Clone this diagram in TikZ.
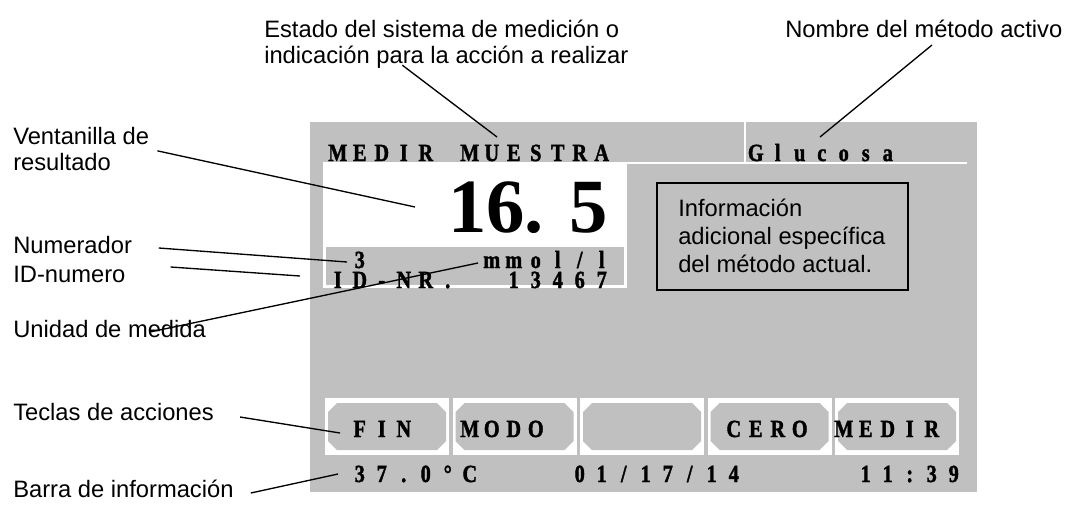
\documentclass[tikz,border=0pt]{standalone}
\usepackage{fontspec}
\setmainfont{Liberation Sans}
\newfontfamily\lcdfont{Liberation Serif}[FakeStretch=0.82,FakeBold=1.6]
\newfontfamily\bigfont{Liberation Serif}
\definecolor{panelgray}{RGB}{192,192,192}
% one character per display cell
\newcommand\lcd[1]{\lcdnext#1\relax}
\def\lcdnext#1{\ifx#1\relax\else\makebox[16.5pt]{#1}\expandafter\lcdnext\fi}
\tikzset{
  lbl/.style={anchor=base west,inner sep=0pt,align=left,font=\fontsize{17.8}{19}\selectfont},
  lcdtxt/.style={anchor=base west,inner sep=0pt,font=\lcdfont\bfseries\fontsize{18.5}{18.5}\selectfont},
  lead/.style={line width=1pt},
}
\begin{document}
\begin{tikzpicture}[x=0.75pt,y=-0.75pt]
	\useasboundingbox (0,0) rectangle (1077,504);
	% display
	\fill[panelgray] (310,122) rectangle (977,492);
	\fill[white] (323,162) rectangle (627,288);
	\fill[panelgray] (326,247) rectangle (624,285);
	\draw[white,line width=1.5pt] (745,122) -- (745,163) (627,163) -- (967,163);
	\foreach \k in {0,...,4}{
		\pgfmathsetmacro\kx{325+127.5*\k}
		\fill[white] (\kx,398) rectangle ++(124,57);
		\fill[panelgray] (\kx,398) ++(3,14) -- ++(9,-9) -- ++(100,0) -- ++(9,9) -- ++(0,29)
			-- ++(-9,9) -- ++(-100,0) -- ++(-9,-9) -- cycle;
	}
	\draw[line width=1.1pt,fill=panelgray] (657,183) rectangle (908,290);
	\node[lbl,font=\fontsize{17.8}{21}\selectfont] (info) at (678,272)
		{Información\\adicional específica\\del método actual.};
	% display texts
	\node[lcdtxt] (status) at (326.5,161) {\lcd{MEDIR~MUESTRA}};
	\node[lcdtxt] (method) at (744.5,161) {\lcd{Glucosa}};
	\node[anchor=base east,inner sep=0pt,font=\bigfont\bfseries\fontsize{57.5}{57.5}\selectfont] (result) at (608,232) {16. 5};
	\node[lcdtxt] (numer) at (348.5,268) {\lcd{3}};
	\node[lcdtxt] (unit) at (480.5,268) {\lcd{mmol/l}};
	\node[lcdtxt] (idnr) at (326.5,288) {\lcd{ID-NR.~~13467}};
	\node[lcdtxt] (kfin) at (348.5,437) {\lcd{FIN}};
	\node[lcdtxt] (kmodo) at (458.5,437) {\lcd{MODO}};
	\node[lcdtxt] (kcero) at (722.5,437) {\lcd{CERO}};
	\node[lcdtxt] (kmedir) at (832.5,437) {\lcd{MEDIR}};
	\node[lcdtxt] (temp) at (348.5,482) {\lcd{37.0°C}};
	\node[lcdtxt] (date) at (568.5,482) {\lcd{01/17/14}};
	\node[lcdtxt] (time) at (854.5,482) {\lcd{11:39}};
	% labels
	\node[lbl] (estadolbl) at (264,63) {Estado del sistema de medición o\\indicación para la acción a realizar};
	\node[lbl] (metodolbl) at (785,37) {Nombre del método activo};
	\node[lbl] (ventanalbl) at (13,170) {Ventanilla de\\resultado};
	\node[lbl] (numerlbl) at (13,253) {Numerador};
	\node[lbl] (idlbl) at (13,282) {ID-numero};
	\node[lbl] (unidadlbl) at (13,337) {Unidad de medida};
	\node[lbl] (teclaslbl) at (13,420) {Teclas de acciones};
	\node[lbl] (barralbl) at (13,497) {Barra de información};
	\coordinate (statustip) at (497,137);
	\coordinate (methodtip) at (820,137);
	\coordinate (resulttip) at (415,207);
	\coordinate (numtip) at (347,262);
	\coordinate (idtip) at (300,276);
	\coordinate (unittip) at (478,263);
	\coordinate (keytip) at (340,433);
	\coordinate (bartip) at (338,474);
	\draw[lead] (estadolbl.south) ++(-44,-3) -- (statustip);
	\draw[lead] (metodolbl.base west) ++(147,8) -- (methodtip);
	\draw[lead] (ventanalbl.east) ++(8,2) -- (resulttip);
	\draw[lead] (numerlbl.base east) ++(26.5,-5) -- (numtip);
	\draw[lead] (idlbl.base east) ++(45,-15) -- (idtip);
	\draw[lead] (unidadlbl.base west) ++(137,-5) -- (unittip);
	\draw[lead] (teclaslbl.base east) ++(26,-3) -- (keytip);
	\draw[lead] (barralbl.base east) ++(17,-4) -- (bartip);
\end{tikzpicture}
\end{document}
